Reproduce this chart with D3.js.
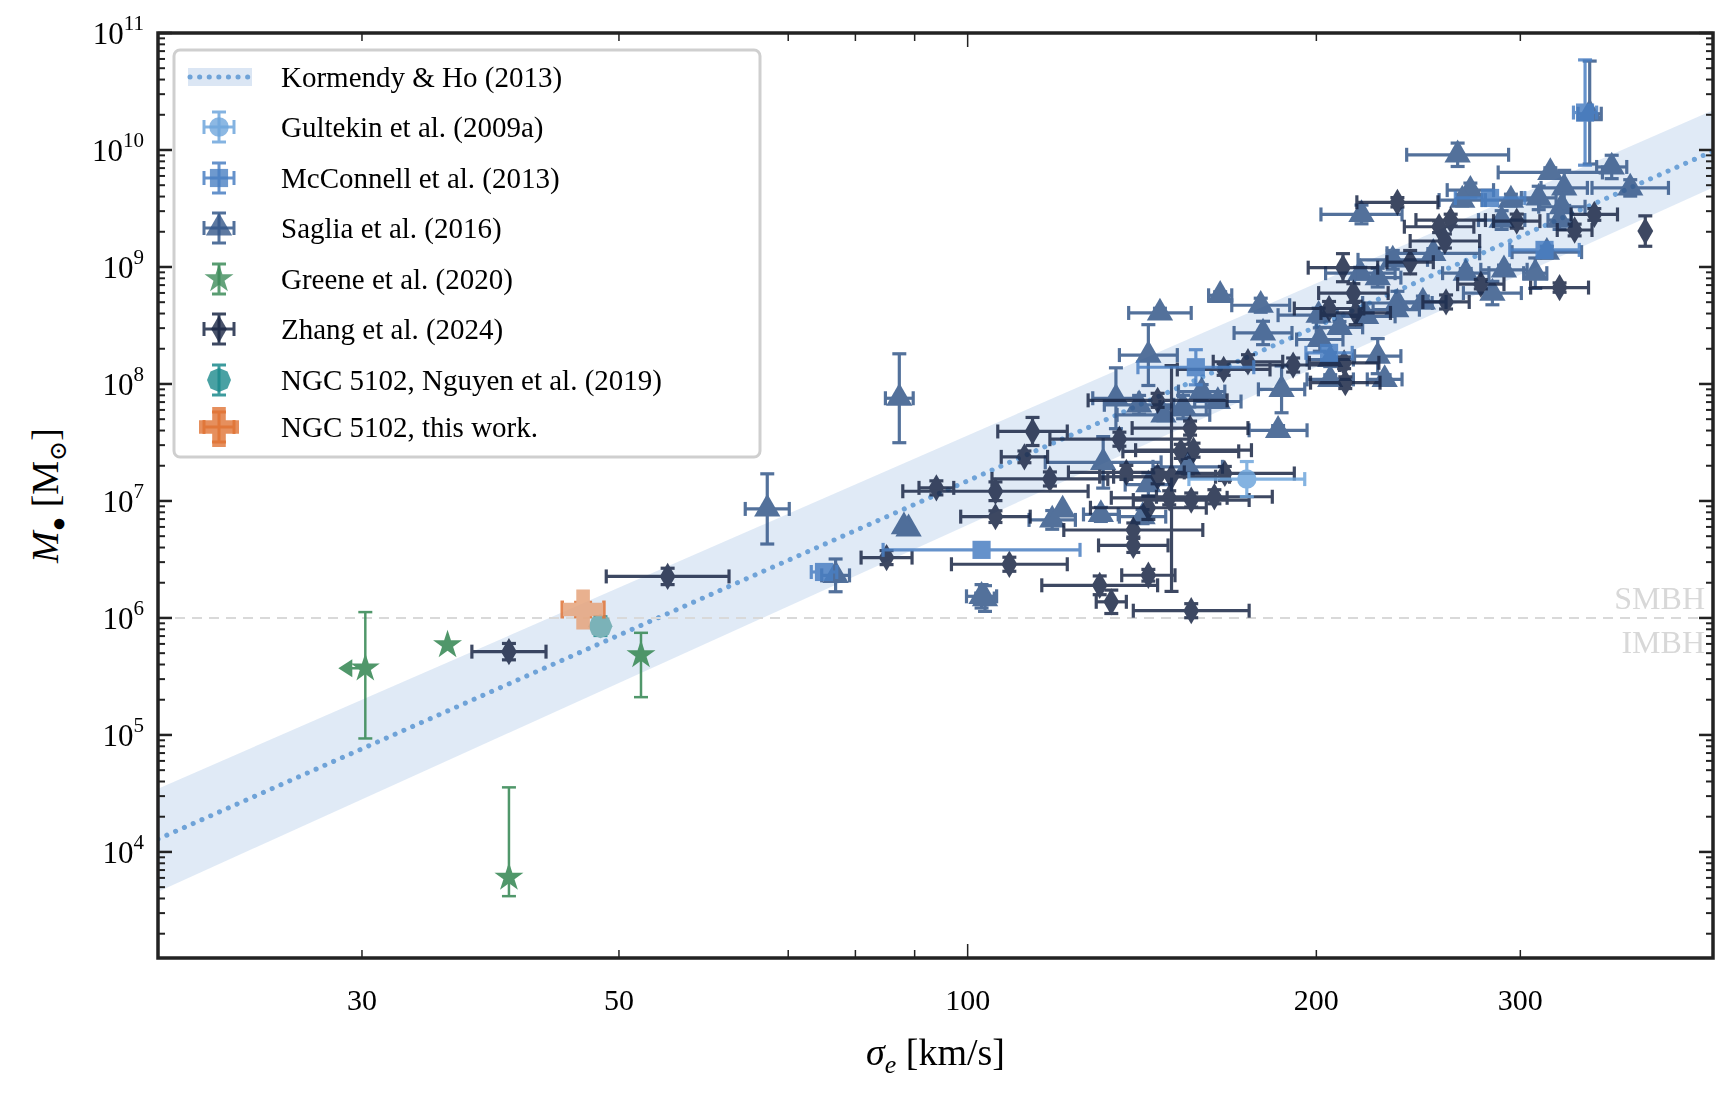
<!DOCTYPE html>
<html><head><meta charset="utf-8">
<script src="https://cdn.jsdelivr.net/npm/d3@7"></script>
<style>body{margin:0;background:#fff}text{font-family:"Liberation Serif","DejaVu Serif",serif}</style>
</head><body><svg id="c" width="1726" height="1094"></svg>
<script>
// each row: [log10 sigma (km/s), log10 M (Msun), sigma err (dex), M err low (dex), M err high (dex)]
const gultekin = [[2.241,7.187,0.05,0.15,0.15]];
const mcconnell = [[1.876,6.393,0.011,0.06,0.06],[2.012,6.582,0.085,0.05,0.05],[2.197,8.143,0.05,0.15,0.15],
 [2.533,10.32,0.01,0.45,0.45],[2.451,9.59,0.03,0.05,0.05],[2.498,9.146,0.03,0.05,0.05],[2.312,8.266,0.02,0.05,0.05]];
const saglia = [[1.941,7.878,0.012,0.38,0.38],[1.827,6.932,0.019,0.3,0.3],[1.886,6.364,0.012,0.14,0.14],[2.015,6.166,0.008,0.11,0.11],
 [1.949,6.762,0,0,0],[2.166,8.607,0.027,0.04,0.04],[2.218,8.758,0.01,0.03,0.03],[2.253,8.673,0.025,0.06,0.06],[2.255,8.436,0.025,0.1,0.1],
 [2.156,8.247,0.025,0.26,0.26],[2.128,7.878,0.02,0.26,0.26],[2.148,7.822,0.03,0.08,0.08],[2.186,7.803,0.02,0.1,0.1],[2.202,7.935,0.02,0.06,0.06],
 [2.216,7.85,0.02,0.05,0.05],[2.271,7.954,0.02,0.2,0.2],[2.268,7.604,0.025,0.04,0.04],[2.169,7.736,0.04,0.05,0.05],[2.117,7.33,0.05,0.22,0.22],
 [2.19,7.292,0.03,0.06,0.06],[2.156,7.14,0.02,0.1,0.1],[2.115,6.885,0.015,0.06,0.06],[2.073,6.838,0.02,0.08,0.08],[2.082,6.923,0,0,0],
 [1.945,6.781,0,0,0],[2.012,6.185,0.013,0.1,0.1],[2.151,6.866,0.02,0.06,0.06],
 [2.423,9.959,0.044,0.1,0.1],[2.34,9.449,0.035,0.08,0.08],[2.434,9.657,0.02,0.06,0.06],[2.427,9.572,0.02,0.05,0.05],[2.469,9.572,0.025,0.05,0.05],
 [2.503,9.808,0.045,0.04,0.04],[2.515,9.676,0.02,0.15,0.15],[2.556,9.855,0.013,0.1,0.1],[2.572,9.676,0.033,0.07,0.07],[2.493,9.59,0.015,0.1,0.1],
 [2.513,9.515,0.02,0.12,0.12],[2.461,9.401,0.02,0.08,0.08],[2.511,9.401,0.01,0.08,0.08],[2.402,9.117,0.04,0.04,0.04],[2.367,9.061,0.03,0.08,0.08],
 [2.339,8.947,0.03,0.05,0.05],[2.354,8.909,0.02,0.08,0.08],[2.371,8.692,0.03,0.1,0.1],[2.393,8.701,0.02,0.05,0.05],[2.43,8.947,0.02,0.04,0.04],
 [2.463,8.976,0.02,0.04,0.04],[2.453,8.777,0.025,0.1,0.1],[2.49,8.947,0.01,0.13,0.13],[2.303,8.588,0.035,0.06,0.06],[2.304,8.38,0.02,0.1,0.1],
 [2.321,8.484,0.02,0.05,0.05],[2.344,8.578,0.025,0.05,0.05],[2.37,8.635,0.02,0.04,0.04],[2.313,8.209,0.02,0.06,0.06],[2.354,8.238,0.02,0.15,0.15],
 [2.36,8.039,0.015,0.04,0.04],[2.313,8.039,0.02,0.04,0.04],[2.5,9.127,0.03,0.05,0.05],[2.537,10.31,0.01,0.43,0.45]];
const greene = [[1.48,5.57,0,0.6,0.48],[1.551,5.769,0,0,0],[1.604,3.782,0,0.16,0.77],[1.718,5.683,0,0.36,0.19]];
const greeneUpperLimitSigma = [true,false,false,false];
const zhang = [[1.741,6.355,0.053,0.07,0.07],[1.604,5.712,0.032,0.07,0.07],[1.973,7.112,0.015,0.06,0.06],[2.024,7.083,0.08,0.08,0.08],
 [2.056,7.594,0.03,0.12,0.12],[2.049,7.377,0.02,0.05,0.05],[2.071,7.188,0.05,0.06,0.06],[2.024,6.866,0.03,0.05,0.05],[2.036,6.459,0.05,0.06,0.06],
 [1.93,6.516,0.022,0.06,0.06],[2.114,6.279,0.05,0.08,0.08],[2.124,6.138,0.013,0.1,0.1],[2.193,6.062,0.05,0.06,0.06],[2.156,6.365,0.023,0.05,0.05],
 [2.143,6.62,0.03,0.06,0.06],[2.143,6.752,0.06,0.06,0.06],[2.156,6.942,0.05,0.1,0.1],[2.174,7.027,0.05,0.06,0.06],[2.193,7.008,0.05,0.06,0.06],
 [2.213,7.036,0.05,0.06,0.06],[2.222,7.235,0.06,0.06,0.06],[2.195,7.434,0.05,0.06,0.06],[2.184,7.424,0.05,0.06,0.06],[2.192,7.623,0.05,0.06,0.06],
 [2.164,7.86,0.06,0.06,0.06],[2.131,7.528,0.06,0.06,0.06],[2.137,7.244,0.05,0.06,0.06],[2.164,7.207,0.05,0.06,0.06],[2.176,7.207,0.05,0.98,0.95],
 [2.221,8.124,0.04,0.05,0.05],[2.242,8.19,0.03,0.06,0.06],[2.281,8.162,0.04,0.06,0.06],[2.371,9.553,0.035,0.04,0.04],[2.417,9.401,0.03,0.05,0.05],
 [2.407,9.344,0.03,0.05,0.05],[2.412,9.222,0.03,0.06,0.06],[2.474,9.392,0.02,0.06,0.06],[2.541,9.449,0.02,0.05,0.05],[2.524,9.316,0.015,0.05,0.05],
 [2.585,9.307,0,0.13,0.13],[2.382,9.041,0.02,0.1,0.1],[2.324,8.994,0.03,0.12,0.12],[2.333,8.777,0.03,0.08,0.08],[2.312,8.645,0.03,0.06,0.06],
 [2.335,8.607,0.03,0.1,0.1],[2.443,8.853,0.02,0.04,0.04],[2.413,8.701,0.02,0.06,0.06],[2.511,8.824,0.025,0.04,0.04],[2.325,8.181,0.03,0.05,0.05],
 [2.326,8.011,0.03,0.05,0.05]];
const nguyen = [[1.683,5.93,0,0.08,0.08]];
const thisWork = [[1.668,6.072,0.018,0.06,0.06]];
// Kormendy & Ho (2013) relation and band, values at sigma = 20 and 440 km/s (log10 M)
const khSigma = [20,440];
const khLine = [4.11,9.99];
const khBandUpper = [4.54,10.34];
const khBandLower = [3.66,9.68];
const xTickMajor = [100];
const xTickLabeled = [30,50,100,200,300];
const xTickMinor = [30,50,70,80,90,200,300];
const yDecades = [4,5,6,7,8,9,10,11];
const legendLabels = ["Kormendy & Ho (2013)","Gultekin et al. (2009a)","McConnell et al. (2013)","Saglia et al. (2016)",
 "Greene et al. (2020)","Zhang et al. (2024)","NGC 5102, Nguyen et al. (2019)","NGC 5102, this work."];

const svg = d3.select("#c");
const L=158,R=1713,T=33,B=958;
const x = d3.scaleLog().domain([20,440]).range([L,R]);
const y = d3.scaleLog().domain([1240,1e11]).range([B,T]);
svg.append("defs").append("clipPath").attr("id","cp").append("rect").attr("x",L).attr("y",T).attr("width",R-L).attr("height",B-T);
const g = svg.append("g").attr("clip-path","url(#cp)");
const dotted = sel => sel.attr("stroke","#6fa3d8").attr("stroke-width",5).attr("stroke-dasharray","0.1 9.5").attr("stroke-linecap","round");

const bandPts = khSigma.map((s,i)=>({s,lo:10**khBandLower[i],hi:10**khBandUpper[i]}));
g.append("path").datum(bandPts).attr("fill","#dbe6f4").attr("opacity",0.85)
 .attr("d",d3.area().x(d=>x(d.s)).y0(d=>y(d.lo)).y1(d=>y(d.hi)));
g.append("path").datum(khSigma.map((s,i)=>({s,m:10**khLine[i]}))).attr("fill","none").call(dotted)
 .attr("d",d3.line().x(d=>x(d.s)).y(d=>y(d.m)));
g.append("line").attr("x1",L).attr("x2",R).attr("y1",y(1e6)).attr("y2",y(1e6)).attr("stroke","#d9d9d9").attr("stroke-width",2).attr("stroke-dasharray","10 7");
svg.append("text").attr("x",R-8).attr("y",y(1e6)-9).attr("text-anchor","end").attr("font-size",32).attr("fill","#d8d8d8").text("SMBH");
svg.append("text").attr("x",R-8).attr("y",y(1e6)+35).attr("text-anchor","end").attr("font-size",32).attr("fill","#d8d8d8").text("IMBH");

function thinDiamond(s){const h=s*0.62,w=s*0.36;return `M0,${-h}L${w},0L0,${h}L${-w},0Z`;}
function poly(n,r){let p=[];for(let i=0;i<n;i++){const a=-Math.PI/2+i*2*Math.PI/n;p.push([r*Math.cos(a),r*Math.sin(a)]);}return "M"+p.join("L")+"Z";}
function plusP(s){const a=s*0.5,b=s*0.17;return `M${-b},${-a}H${b}V${-b}H${a}V${b}H${b}V${a}H${-b}V${b}H${-a}V${-b}H${-b}Z`;}
const shapes = {
 tri: d3.symbol(d3.symbolTriangle,300)(),
 sq: d3.symbol(d3.symbolSquare,330)(),
 circ: d3.symbol(d3.symbolCircle,300)(),
 star: d3.symbol(d3.symbolStar,260)(),
 dia: thinDiamond(22),
 pent: poly(8,12),
 plus: plusP(40)
};
function series(data,shape,col,opts={}){
 const gg=g.append("g").attr("opacity",opts.op||0.85);
 const lw=opts.lw||3.2, cap=opts.cap||7;
 data.forEach((d,i)=>{
  const cx=x(10**d[0]), cy=y(10**d[1]);
  const eg=gg.append("g").attr("stroke",opts.ecol||col).attr("stroke-width",lw);
  if(d[2]>0){const x1=x(10**(d[0]-d[2])),x2=x(10**(d[0]+d[2]));
   eg.append("line").attr("x1",x1).attr("x2",x2).attr("y1",cy).attr("y2",cy);
   [x1,x2].forEach(xx=>eg.append("line").attr("x1",xx).attr("x2",xx).attr("y1",cy-cap).attr("y2",cy+cap));}
  if(d[3]>0||d[4]>0){const y1=y(10**(d[1]-d[3])),y2=y(10**(d[1]+d[4]));
   eg.append("line").attr("x1",cx).attr("x2",cx).attr("y1",y1).attr("y2",y2);
   [y1,y2].forEach(yy=>eg.append("line").attr("x1",cx-cap).attr("x2",cx+cap).attr("y1",yy).attr("y2",yy));}
  if(opts.limits&&opts.limits[i]){
   eg.append("line").attr("x1",cx).attr("x2",cx-22).attr("y1",cy).attr("y2",cy);
   gg.append("path").attr("d","M-27,0L-13,-9L-13,9Z").attr("transform",`translate(${cx},${cy})`).attr("fill",col);}
  gg.append("path").attr("d",shapes[shape]).attr("transform",`translate(${cx},${cy})`).attr("fill",opts.mcol||col);
 });
}
series(greene,"star","#3d8c5a",{lw:2.5,cap:7,limits:greeneUpperLimitSigma,op:0.9});
series(saglia,"tri","#34588a",{op:0.85});
series(zhang,"dia","#1b2846",{op:0.85});
series(mcconnell,"sq","#4a7fc2",{op:0.85});
series(gultekin,"circ","#6fa6dc",{op:0.85});
series(nguyen,"pent","#1b8a8c",{mcol:"#6aa9ae",op:0.85});
series(thisWork,"plus","#e07335",{mcol:"#e5a47c",op:0.85,lw:3.5,cap:9});

svg.append("rect").attr("x",L).attr("y",T).attr("width",R-L).attr("height",B-T).attr("fill","none").attr("stroke","#222").attr("stroke-width",3.5);
const ax=svg.append("g").attr("stroke","#222");
xTickMinor.concat(xTickMajor).forEach(v=>{
 const len = xTickMajor.includes(v)?14:8;
 ax.append("line").attr("x1",x(v)).attr("x2",x(v)).attr("y1",B).attr("y2",B-len).attr("stroke-width",1.5);
 ax.append("line").attr("x1",x(v)).attr("x2",x(v)).attr("y1",T).attr("y2",T+len).attr("stroke-width",1.5);
});
xTickLabeled.forEach(v=>svg.append("text").attr("x",x(v)).attr("y",B+52).attr("text-anchor","middle").attr("font-size",30).text(v));
yDecades.forEach(e=>{
 const yy=y(10**e);
 [[L,1],[R,-1]].forEach(([xx,s])=>ax.append("line").attr("x1",xx).attr("x2",xx+s*14).attr("y1",yy).attr("y2",yy).attr("stroke-width",2.5));
 const t=svg.append("text").attr("x",L-14).attr("y",yy+11).attr("text-anchor","end").attr("font-size",31);
 t.append("tspan").text("10"); t.append("tspan").attr("dy",-14).attr("font-size",21).text(e);
});
for(let e=3;e<=10;e++)for(let k=2;k<=9;k++){const v=k*10**e; if(v<1240||v>1e11)continue; const yy=y(v);
 [[L,1],[R,-1]].forEach(([xx,s])=>ax.append("line").attr("x1",xx).attr("x2",xx+s*7).attr("y1",yy).attr("y2",yy).attr("stroke-width",2));}

const xl=svg.append("text").attr("x",(L+R)/2).attr("y",1065).attr("text-anchor","middle").attr("font-size",38);
xl.append("tspan").attr("font-style","italic").text("σ");xl.append("tspan").attr("font-style","italic").attr("font-size",26).attr("dy",8).text("e");
xl.append("tspan").attr("dy",-8).text(" [km/s]");
const yl=svg.append("text").attr("transform",`translate(58,${(T+B)/2}) rotate(-90)`).attr("text-anchor","middle").attr("font-size",38);
yl.append("tspan").attr("font-style","italic").text("M");yl.append("tspan").attr("font-size",24).attr("dy",8).text("●");
yl.append("tspan").attr("dy",-8).text(" [M");yl.append("tspan").attr("font-size",24).attr("dy",8).text("⊙");yl.append("tspan").attr("dy",-8).text("]");

const lg=svg.append("g");
lg.append("rect").attr("x",174).attr("y",50).attr("width",586).attr("height",407).attr("rx",6).attr("fill","#fff").attr("fill-opacity",0.85).attr("stroke","#cfcfcf").attr("stroke-width",3);
const rows=[77,127,178,228,279,329,380,427];
const lgShapes=[null,["circ","#6fa6dc"],["sq","#4a7fc2"],["tri","#34588a"],["star","#3d8c5a"],["dia","#1b2846"],["pent","#1b8a8c"],["plus","#e07335"]];
legendLabels.forEach((lab,i)=>{
 const yy=rows[i], cx=219;
 if(i===0){lg.append("rect").attr("x",188).attr("y",yy-9).attr("width",64).attr("height",18).attr("fill","#dbe6f4");
  lg.append("line").attr("x1",190).attr("x2",250).attr("y1",yy).attr("y2",yy).call(dotted);}
 else{const [s,c]=lgShapes[i];const e=lg.append("g").attr("stroke",c).attr("stroke-width",3).attr("opacity",0.85);
  e.append("line").attr("x1",cx).attr("x2",cx).attr("y1",yy-15).attr("y2",yy+15);
  e.append("line").attr("x1",cx-7).attr("x2",cx+7).attr("y1",yy-15).attr("y2",yy-15);
  e.append("line").attr("x1",cx-7).attr("x2",cx+7).attr("y1",yy+15).attr("y2",yy+15);
  if(i!==4&&i!==6){e.append("line").attr("x1",cx-15).attr("x2",cx+15).attr("y1",yy).attr("y2",yy);
   e.append("line").attr("x1",cx-15).attr("x2",cx-15).attr("y1",yy-7).attr("y2",yy+7);
   e.append("line").attr("x1",cx+15).attr("x2",cx+15).attr("y1",yy-7).attr("y2",yy+7);}
  lg.append("path").attr("d",shapes[s]).attr("transform",`translate(${cx},${yy})`).attr("fill",c).attr("opacity",0.8);}
 lg.append("text").attr("x",281).attr("y",yy+10).attr("font-size",29).text(lab);
});
</script></body></html>
